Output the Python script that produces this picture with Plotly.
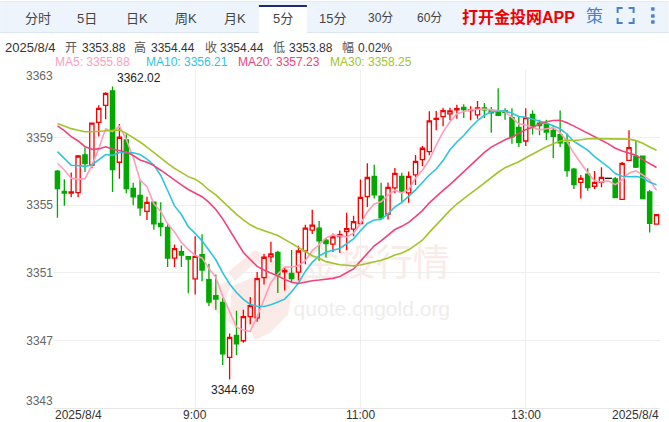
import plotly.graph_objects as go

BASE = 3300
opens = [57.02,55.82,55.72,55.74,57.97,57.38,59.90,60.91,61.76,57.54,58.86,56.00,55.58,54.64,55.18,53.93,53.69,51.87,52.25,51.95,50.64,52.07,50.60,49.65,49.25,46.00,47.29,46.98,48.41,48.33,50.71,51.94,52.20,51.06,50.96,51.04,52.30,53.52,53.64,52.93,52.70,53.14,53.44,53.59,53.91,55.51,56.70,55.53,54.47,56.03,56.70,55.73,56.80,57.70,58.17,60.08,60.24,60.40,60.64,60.78,60.60,60.34,60.76,60.62,60.56,60.60,60.18,59.61,58.80,60.38,59.85,59.79,59.43,59.18,58.71,57.14,56.35,56.84,56.12,56.35,56.59,56.55,55.35,57.65,57.90,57.90,55.78,53.88]
closes = [55.98,55.72,55.78,57.91,57.46,59.86,60.73,61.62,57.10,59.02,55.98,55.50,54.85,55.17,53.90,53.73,51.87,52.43,52.05,51.81,51.97,51.16,49.27,49.45,46.20,47.18,46.80,48.41,49.06,50.65,51.92,52.12,50.88,51.14,50.65,52.29,53.64,53.82,52.89,52.73,53.12,53.26,53.61,54.03,55.46,56.64,55.61,54.25,56.05,56.88,55.81,56.70,57.59,58.37,59.99,60.14,60.60,60.58,60.72,60.66,60.66,60.76,60.64,60.46,60.32,60.50,59.04,58.72,60.18,59.65,59.71,59.33,59.08,58.69,57.04,56.22,56.59,56.04,56.35,56.65,56.59,55.45,57.47,58.41,57.25,55.39,53.92,54.44]
highs = [57.08,56.53,56.94,57.97,58.42,59.90,60.91,61.68,62.02,59.80,59.20,56.33,56.50,55.50,55.20,55.18,53.90,52.68,52.62,51.95,53.16,53.28,51.53,50.90,49.49,47.41,48.75,48.82,49.57,51.04,52.12,52.84,52.31,51.33,52.35,52.60,53.84,54.73,54.07,53.05,53.32,53.51,54.56,54.37,56.52,57.48,57.40,56.33,56.35,57.20,56.92,57.00,57.97,58.50,60.56,60.58,60.76,60.76,60.95,60.97,60.85,61.17,61.05,60.81,61.92,60.74,60.74,60.22,60.74,60.62,60.06,60.06,59.70,60.60,59.24,57.22,56.78,57.18,57.02,57.25,56.59,56.67,57.55,59.43,58.84,57.90,55.90,54.44]
lows = [54.26,54.97,55.47,55.47,56.96,57.18,59.06,60.08,55.78,56.57,55.70,55.00,54.38,54.12,53.55,53.16,51.34,51.34,51.34,49.79,49.71,50.50,49.04,48.82,45.55,44.69,46.14,46.86,47.96,48.10,50.31,51.63,49.80,49.96,50.45,50.55,51.50,53.29,51.71,51.90,52.23,52.17,52.33,53.16,53.87,54.90,55.40,54.15,54.15,55.70,55.20,55.14,56.19,57.30,57.95,59.43,59.67,60.03,60.12,60.16,60.03,60.12,60.16,59.28,60.30,60.06,58.64,58.45,58.50,59.18,59.14,58.84,57.80,58.45,56.69,55.96,55.39,55.86,55.96,56.06,56.59,55.45,55.35,57.65,57.20,55.39,53.39,53.88]
ma5 = [57.48,57.08,56.60,56.53,56.57,57.35,58.35,59.52,59.35,59.67,58.89,57.84,56.49,56.10,55.08,54.63,53.90,53.42,52.80,52.38,52.03,51.88,51.25,50.73,49.61,48.65,47.78,47.61,47.53,48.42,49.37,50.43,50.93,51.34,51.34,51.42,51.72,52.31,52.66,53.07,53.24,53.16,53.12,53.35,53.90,54.60,55.07,55.20,55.60,55.89,55.72,55.94,56.61,57.07,57.69,58.56,59.34,59.94,60.41,60.54,60.64,60.68,60.69,60.64,60.57,60.54,60.19,59.81,59.75,59.62,59.46,59.52,59.59,59.29,58.77,58.07,57.52,56.92,56.45,56.37,56.44,56.22,56.50,56.91,57.03,56.79,56.49,55.88]
ma10 = [58.17,57.77,57.36,57.34,57.30,57.38,57.67,58.00,57.95,58.12,58.12,58.10,58.00,57.73,57.38,56.76,55.87,54.96,54.45,53.73,53.33,52.89,52.34,51.77,51.00,50.34,49.83,49.43,49.13,49.02,49.01,49.11,49.27,49.44,49.88,50.40,51.08,51.62,52.00,52.21,52.33,52.44,52.72,53.01,53.49,53.92,54.12,54.16,54.48,54.90,55.16,55.51,55.91,56.34,56.79,57.14,57.64,58.28,58.74,59.12,59.60,60.01,60.32,60.53,60.56,60.59,60.44,60.25,60.20,60.10,60.00,59.86,59.70,59.52,59.20,58.77,58.52,58.26,57.87,57.57,57.26,56.87,56.71,56.68,56.70,56.62,56.36,56.21]
ma20 = [59.69,59.41,59.06,58.80,58.46,58.31,58.33,58.46,58.31,58.21,58.15,57.94,57.68,57.54,57.34,57.07,56.77,56.48,56.20,55.93,55.73,55.50,55.17,54.75,54.19,53.55,52.85,52.20,51.79,51.38,51.17,51.00,50.81,50.61,50.44,50.37,50.46,50.53,50.57,50.62,50.67,50.78,51.00,51.23,51.69,52.16,52.60,52.89,53.24,53.56,53.75,53.98,54.32,54.68,55.14,55.53,55.88,56.22,56.61,57.01,57.38,57.76,58.12,58.44,58.68,58.87,59.04,59.27,59.47,59.61,59.80,59.94,60.01,60.03,59.88,59.68,59.48,59.26,59.04,58.84,58.63,58.37,58.21,58.10,57.95,57.70,57.44,57.23]
ma30 = [59.84,59.69,59.53,59.43,59.35,59.35,59.37,59.41,59.41,59.45,59.25,59.00,58.74,58.44,58.11,57.77,57.48,57.18,56.92,56.69,56.54,56.26,55.90,55.61,55.23,54.83,54.46,54.13,53.84,53.63,53.49,53.37,53.21,52.98,52.75,52.50,52.26,52.01,51.86,51.66,51.56,51.48,51.45,51.41,51.46,51.55,51.68,51.74,51.87,52.05,52.17,52.36,52.64,52.93,53.39,53.82,54.28,54.69,55.07,55.41,55.70,55.99,56.32,56.63,56.95,57.22,57.40,57.57,57.81,58.04,58.25,58.46,58.64,58.80,58.85,58.83,58.87,58.93,58.94,58.93,58.95,58.92,58.91,58.91,58.82,58.66,58.44,58.25]

y_ticks = [3363, 3359, 3355, 3351, 3347, 3343]
x_tick_idx = [20, 44, 68]
x_tick_text = ["9:00", "11:00", "13:00"]
date_label = "2025/8/4"
tabs = ["分时", "5日", "日K", "周K", "月K", "5分", "15分", "30分", "60分"]
info = ["2025/8/4", "开", "3353.88", "高", "3354.44", "收", "3354.44", "低", "3353.88", "幅", "0.02%"]
ma_names = ["MA5", "MA10", "MA20", "MA30"]
ma_last = ["3355.88", "3356.21", "3357.23", "3358.25"]
ma_colors = ["#FF9EBB", "#2EC4E0", "#F0437C", "#A3C32B"]

W, H = 669, 422
L, R, T, B = 53.9, 8.6, 70, 14
FONT = "Liberation Sans, Arial, Noto Sans CJK SC, sans-serif"
RED, GREEN = "#F80000", "#00A800"


def px(x):
    return (x - L) / (W - L - R)


def py(y):
    return 1 - (y - T) / (H - T - B)


xs = list(range(len(closes)))
solid = [i for i in xs if opens[i] != closes[i] or highs[i] != lows[i]]
flat = [i for i in xs if i not in solid]

fig = go.Figure()
fig.add_trace(go.Candlestick(
    x=solid,
    open=[BASE + opens[i] for i in solid],
    high=[BASE + highs[i] for i in solid],
    low=[BASE + lows[i] for i in solid],
    close=[BASE + closes[i] for i in solid],
    increasing=dict(line=dict(color=RED, width=1.3), fillcolor="#FFFFFF"),
    decreasing=dict(line=dict(color=GREEN, width=1.3), fillcolor=GREEN),
    whiskerwidth=0, showlegend=False, hoverinfo="skip",
))
fig.add_trace(go.Scatter(
    x=flat, y=[BASE + closes[i] for i in flat], mode="markers",
    marker=dict(symbol="line-ew", size=5, line=dict(color="#111111", width=1.3)),
    showlegend=False, hoverinfo="skip",
))
for series, color in zip([ma5, ma10, ma20, ma30], ma_colors):
    fig.add_trace(go.Scatter(
        x=xs, y=[BASE + v for v in series], mode="lines",
        line=dict(color=color, width=1.6), showlegend=False, hoverinfo="skip",
    ))

shapes = []


def rect(x0, y0, x1, y1, fill, layer="above"):
    shapes.append(dict(type="rect", xref="paper", yref="paper", x0=px(x0), x1=px(x1), y0=py(y0), y1=py(y1),
                       fillcolor=fill, line=dict(width=0), layer=layer))


def poly(points, fill):
    d = "M" + " L".join(f"{px(a):.5f},{py(b):.5f}" for a, b in points) + " Z"
    shapes.append(dict(type="path", xref="paper", yref="paper", path=d, fillcolor=fill, line=dict(width=0), layer="below"))


rect(0, 1, 669, 32.5, "#EEF4FC")
rect(0, 32, 669, 33, "#DCE5F2")
rect(0, 1, 669, 2, "#E3EAF4")
rect(259, 5, 307, 33, "#FFFFFF")
rect(259, 5, 307, 7, "#1B2A7C")

# watermark logo
LOGO = "#FAEBE8"
poly([(228, 272), (255, 250), (288, 268), (312, 282), (296, 285), (256, 262), (235, 281)], LOGO)
poly([(232, 286), (262, 274), (288, 279), (292, 293), (288, 315), (270, 333), (255, 340), (248, 325), (230, 312)], LOGO)
poly([(205, 290), (232, 280), (226, 300), (240, 330), (252, 343), (232, 325), (212, 308)], LOGO)

# watermark text drawn below the candles
shapes.append(dict(type="rect", xref="paper", yref="paper", x0=px(296), x1=px(456), y0=py(284), y1=py(248),
                   line=dict(width=0), fillcolor="rgba(0,0,0,0)", layer="below",
                   label=dict(text="金投行情", textposition="middle center",
                              font=dict(family="Noto Sans CJK SC", size=37, color="#FAEBE8"))))
shapes.append(dict(type="rect", xref="paper", yref="paper", x0=px(280), x1=px(464), y0=py(318), y1=py(294),
                   line=dict(width=0), fillcolor="rgba(0,0,0,0)", layer="below",
                   label=dict(text="quote.cngold.org", textposition="middle center",
                              font=dict(family=FONT, size=21, color="#EDEDED"))))

# fullscreen icon
ICON = "#4A80C8"
for a, b, c, d in [(618, 8, 623, 13), (634, 8, 629, 13), (618, 23, 623, 18), (634, 23, 629, 18)]:
    shapes.append(dict(type="path", xref="paper", yref="paper",
                       path=f"M{px(c):.5f},{py(b):.5f} L{px(a):.5f},{py(b):.5f} L{px(a):.5f},{py(d):.5f}",
                       line=dict(color=ICON, width=2), layer="above"))
for y in (9, 16, 22):
    rect(651.5, y - 1.7, 655, y + 1.7, ICON)

ann = []


def text(s, x, y, size=12, color="#333333", anchor="left", **kw):
    ann.append(dict(text=s, xref="paper", yref="paper", x=px(x), y=py(y), xanchor=anchor, yanchor="middle",
                    showarrow=False, font=dict(family=FONT, size=size, color=color), borderpad=0, **kw))


tab_x = [38, 87, 137, 186, 235, 283, 333, 381, 430]
tab_size = [13, 13, 13, 13, 13, 13, 13, 12, 12]
for t, x, s in zip(tabs, tab_x, tab_size):
    text(t, x, 18.5, size=s, color="#444444", anchor="center")
text("<b>打开金投网APP</b>", 461, 17, size=16, color="#F00000")
text("策", 595, 17, size=17, color=ICON, anchor="center")

info_x = [4, 64, 81, 133, 150, 204, 219, 272, 288, 341, 357]
for t, x in zip(info, info_x):
    text(t, x, 47.5, size=13 if x == 4 else 12, color="#333333" if not ("\u4e00" <= t[0] <= "\u9fff") else "#555555")

ma_x = [54, 145, 237, 329]
for n, v, c, x in zip(ma_names, ma_last, ma_colors, ma_x):
    text(f"{n}: {v}", x, 62, size=12, color=c)

text(str(y_ticks[0]), 53.5, 76, color="#666666", anchor="right")
text(str(y_ticks[-1]), 53.5, 401, color="#666666", anchor="right")
text(date_label, 54, 415, color="#333333")
text(date_label, 660, 415, color="#333333", anchor="right")
for i, t in zip(x_tick_idx, x_tick_text):
    ann.append(dict(text=t, x=i, xref="x", yref="paper", y=py(415), xanchor="center", yanchor="middle", showarrow=False,
                    font=dict(family=FONT, size=12, color="#333333")))

hi_i = highs.index(max(highs))
lo_i = lows.index(min(lows))
ann.append(dict(text=f"{BASE + highs[hi_i]:.2f}", x=hi_i, y=BASE + highs[hi_i], yshift=9, xshift=26, showarrow=False,
                font=dict(family=FONT, size=12, color="#222222")))
ann.append(dict(text=f"{BASE + lows[lo_i]:.2f}", x=lo_i, y=BASE + lows[lo_i], yshift=-11, xshift=3, showarrow=False,
                font=dict(family=FONT, size=12, color="#222222")))

fig.update_layout(
    width=W, height=H, autosize=False, boxgap=0.12,
    margin=dict(l=L, r=R, t=T, b=B, pad=0),
    paper_bgcolor="#FFFFFF", plot_bgcolor="#FFFFFF",
    font=dict(family=FONT, size=12, color="#333333"),
    showlegend=False, shapes=shapes, annotations=ann,
    xaxis=dict(range=[-0.5, 87.5], tickmode="array", tickvals=x_tick_idx, ticktext=x_tick_text, automargin=False,
               showticklabels=False,
               showgrid=True, gridcolor="#EEEEEE", gridwidth=1, zeroline=False, showline=True, linecolor="#E6E6E6",
               linewidth=1, ticks="", rangeslider=dict(visible=False), fixedrange=True),
    yaxis=dict(range=[3343, 3363], tickmode="array", tickvals=y_ticks, automargin=False,
               ticktext=["" if v in (y_ticks[0], y_ticks[-1]) else str(v) for v in y_ticks],
               showgrid=True, gridcolor="#EEEEEE", gridwidth=1, zeroline=False, showline=False, ticks="",
               tickfont=dict(size=12, color="#666666"), fixedrange=True),
)
fig.write_html("out.html", config=dict(displayModeBar=False),
               post_script="document.body.style.margin='0';document.documentElement.style.overflow='hidden';")
